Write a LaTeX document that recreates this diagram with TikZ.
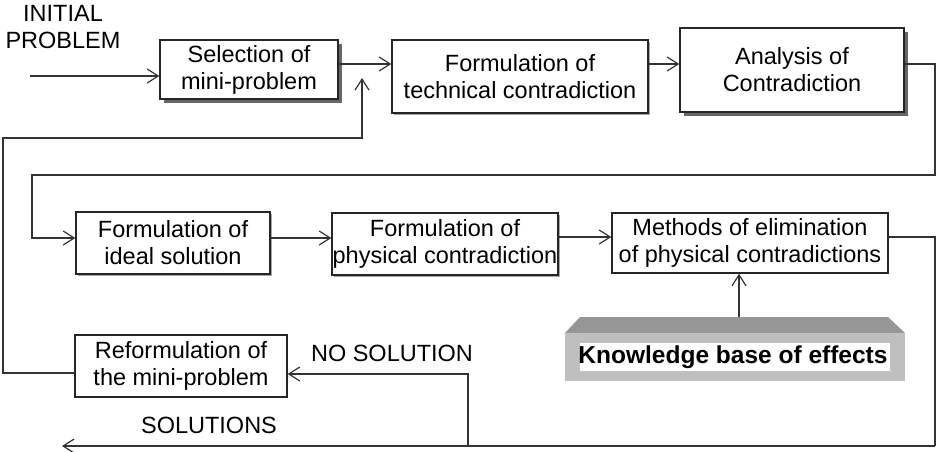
\documentclass[tikz,border=0pt]{standalone}
\usepackage{fontspec}
\setmainfont{Liberation Sans}
\usetikzlibrary{arrows.meta,shadows}
\begin{document}
\begin{tikzpicture}[x=1pt,y=-1pt,
  font=\fontsize{23.5}{27}\selectfont,
  line/.style={draw=black!80,line width=1.2pt},
  arr/.style={line,-{Straight Barb[length=11pt,width=14pt,line width=1.2pt]}},
  stepbox/.style={draw=black!85,line width=1.4pt,fill=white,align=center,inner sep=0pt},
  heavyshadow/.style={drop shadow={shadow xshift=4pt,shadow yshift=-4pt,fill=black!60,opacity=1}},
  lightshadow/.style={drop shadow={shadow xshift=2pt,shadow yshift=-2pt,fill=black!35,opacity=1}},
  lbl/.style={align=center,inner sep=0pt}]
\useasboundingbox (0,0) rectangle (937,451);

% process boxes
\node[stepbox,heavyshadow,minimum width=178pt,minimum height=59pt] (sel) at (249,69.5) {Selection of\\mini-problem};
\node[stepbox,lightshadow,minimum width=256pt,minimum height=73pt] (tech) at (520,76.5) {Formulation of\\technical contradiction};
\node[stepbox,heavyshadow,minimum width=224pt,minimum height=84pt] (ana) at (792,70) {Analysis of\\Contradiction};
\node[stepbox,lightshadow,minimum width=194pt,minimum height=62pt] (ideal) at (173,243) {Formulation of\\ideal solution};
\node[stepbox,lightshadow,minimum width=226pt,minimum height=62pt] (phys) at (445,244) {Formulation of\\physical contradiction};
\node[stepbox,minimum width=276pt,minimum height=60pt] (meth) at (750,243) {Methods of elimination\\of physical contradictions};
\node[stepbox,minimum width=212pt,minimum height=62pt] (reform) at (181,366) {Reformulation of\\the mini-problem};

% knowledge base block
\fill[black!41] (565,333) -- (580,317) -- (888,317) -- (905,333) -- cycle;
\fill[black!25] (565,333) rectangle (905,381);
\fill[white] (580,343) rectangle (890,371);
\node[lbl,font=\fontsize{24.5}{27}\selectfont\bfseries] (kb) at (733,357) {Knowledge base of effects};
\coordinate (kbtop) at (739,317);

% free labels
\node[lbl] (init) at (63,27) {INITIAL\\PROBLEM};
\node[lbl] (nosol) at (392,353) {NO SOLUTION};
\node[lbl] (sols) at (209,425) {SOLUTIONS};

% helper coordinates
\coordinate (start) at (30,76);
\coordinate (r1) at (0,64);
\coordinate (r2) at (0,238);
\coordinate (r3) at (0,237);
\coordinate (fb) at (362,78);
\coordinate (fbl) at (3,138);
\coordinate (rr) at (935,175);
\coordinate (ll) at (32,175);
\coordinate (bot) at (935,446);
\coordinate (out) at (62,446);
\coordinate (br) at (468,446);
\coordinate (brt) at (468,374);
\coordinate (rl) at (3,373);

% connectors
\draw[arr] (start) -- (start -| sel.west);
\draw[arr] (sel.east |- r1) -- (tech.west |- r1);
\draw[arr] (tech.east |- r1) -- (ana.west |- r1);
\draw[arr] (ana.east |- r1) -| (rr) -- (ll) |- (ideal.west |- r2);
\draw[arr] (ideal.east |- r2) -- (phys.west |- r2);
\draw[arr] (phys.east |- r3) -- (meth.west |- r3);
\draw[line] (meth.east |- r3) -| (bot);
\draw[arr] (bot) -- (out);
\draw[arr] (br) -- (brt) -- (reform.east |- brt);
\draw[arr] (reform.west |- rl) -- (rl) -- (fbl) -| (fb);
\draw[arr] (kbtop) -- (kbtop |- meth.south);
\end{tikzpicture}
\end{document}
